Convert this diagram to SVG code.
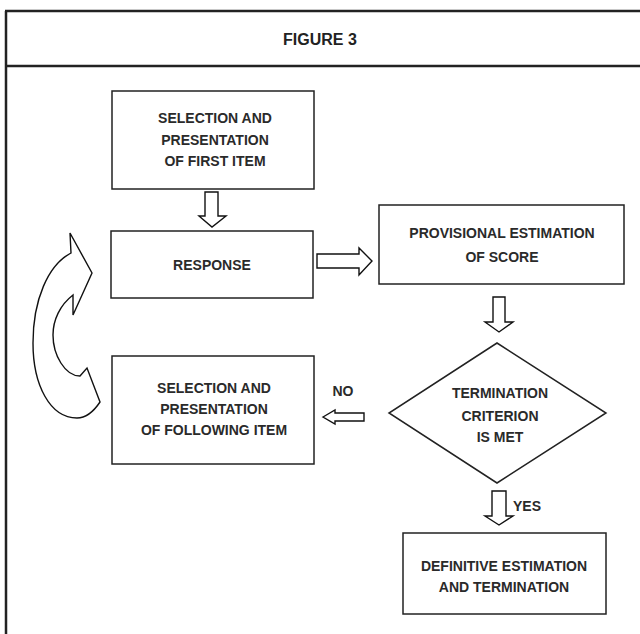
<svg xmlns="http://www.w3.org/2000/svg" width="640" height="634" viewBox="0 0 640 634">
<style>
.frame{stroke:#222;stroke-width:2.5;fill:none}
.box{fill:#fff;stroke:#222;stroke-width:1.5}
.arr{fill:#fff;stroke:#111;stroke-width:1.4;stroke-linejoin:miter}
.t{font-family:"Liberation Sans",Arial,sans-serif;font-weight:bold;font-size:14px;fill:#2a2a2a;text-anchor:middle}
.title{font-family:"Liberation Sans",Arial,sans-serif;font-weight:bold;font-size:16px;fill:#222;text-anchor:middle}
</style>
<rect width="640" height="634" fill="#fff"/>
<g id="frame">
<line class="frame" x1="6" y1="11" x2="6" y2="634"/>
<line class="frame" x1="5" y1="11" x2="640" y2="11"/>
<line class="frame" x1="5" y1="66" x2="640" y2="66"/>
<text class="title" x="320" y="45">FIGURE 3</text>
</g>
<g id="node-first">
<rect class="box" x="112" y="91" width="202" height="98"/>
<text class="t" x="215" y="123">SELECTION AND</text>
<text class="t" x="215" y="145">PRESENTATION</text>
<text class="t" x="215" y="166">OF FIRST ITEM</text>
</g>
<g id="node-response">
<rect class="box" x="111" y="231" width="202" height="67"/>
<text class="t" x="212" y="270">RESPONSE</text>
</g>
<g id="node-provisional">
<rect class="box" x="379" y="205" width="245" height="79"/>
<text class="t" x="502" y="238">PROVISIONAL ESTIMATION</text>
<text class="t" x="502" y="262">OF SCORE</text>
</g>
<g id="node-criterion">
<polygon class="box" points="497,343 606,413 497,483 389,413"/>
<text class="t" x="500" y="398">TERMINATION</text>
<text class="t" x="500" y="421">CRITERION</text>
<text class="t" x="500" y="442">IS MET</text>
</g>
<g id="node-following">
<rect class="box" x="112" y="356" width="202" height="108"/>
<text class="t" x="214" y="393">SELECTION AND</text>
<text class="t" x="214" y="414">PRESENTATION</text>
<text class="t" x="214" y="435">OF FOLLOWING ITEM</text>
</g>
<g id="node-definitive">
<rect class="box" x="403" y="533" width="203" height="81"/>
<text class="t" x="504" y="571">DEFINITIVE ESTIMATION</text>
<text class="t" x="504" y="592">AND TERMINATION</text>
</g>
<g id="connectors">
<polygon class="arr" points="205,192 218,192 218,216 226,216 212,227 199,216 205,216"/>
<polygon class="arr" points="317,254 359,254 359,248 372,261 359,275 359,268 317,268"/>
<polygon class="arr" points="493,297 505,297 505,322 513,322 499,332 485,322 493,322"/>
<polygon class="arr" points="492,491 506,491 506,516 513,516 499,525 485,516 492,516"/>
<polygon class="arr" points="323,417 335,410 335,413 364,413 364,421 335,421 335,424"/>
<path class="arr" d="M71,253 L70,233 L92,273 L73,315 L73,295 C60,305 53,320 53,335 C53,355 65,376 80,376 L87,368 L100,402 C92,414 84,418 77,418 C50,418 33,385 33,343 C33,300 48,265 71,253 Z"/>
<text class="t" x="343" y="396">NO</text>
<text class="t" x="527" y="511">YES</text>
</g>
</svg>
